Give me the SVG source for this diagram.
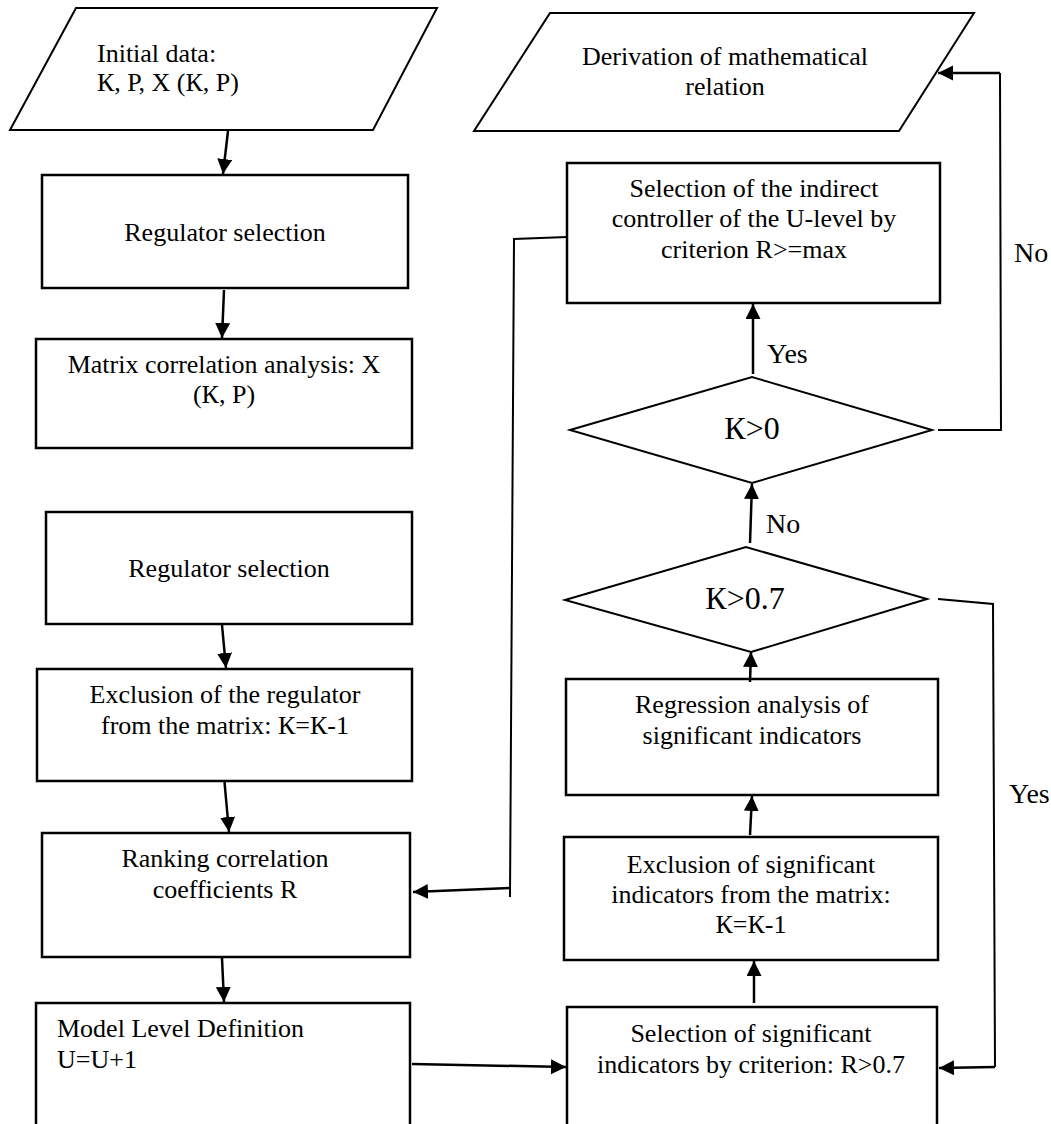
<svg xmlns="http://www.w3.org/2000/svg" width="1051" height="1124" viewBox="0 0 1051 1124">
<defs>
<style>
.box{fill:#fff;stroke:#000;stroke-width:2.5}
.shape{fill:#fff;stroke:#000;stroke-width:2}
.t{font-family:"Liberation Serif","Times New Roman",serif;font-size:26px;fill:#000}
.c{text-anchor:middle}
.lbl{font-family:"Liberation Serif","Times New Roman",serif;font-size:28px;fill:#000}
.dt{font-family:"Liberation Serif","Times New Roman",serif;font-size:32px;fill:#000;text-anchor:middle}
.ar{fill:none;stroke:#000;stroke-width:2.5;marker-end:url(#ah)}
.ln{fill:none;stroke:#000;stroke-width:2}
</style>
<marker id="ah" markerUnits="userSpaceOnUse" markerWidth="16" markerHeight="16" refX="15" refY="7.5" orient="auto" viewBox="0 0 16 16">
<path d="M0,0 L15,7.5 L0,15 z" fill="#000"/>
</marker>
</defs>
<rect width="1051" height="1124" fill="#fff"/>

<g id="initial-data">
<polygon class="shape" points="76,8 437,8 373,130 10,130"/>
<text class="t" x="97" y="62">Initial data:</text>
<text class="t" x="97" y="91">К, Р, X (К, Р)</text>
</g>

<g id="regulator-selection-1">
<rect class="box" x="42" y="175" width="366" height="113"/>
<text class="t c" x="225" y="241">Regulator selection</text>
</g>

<g id="matrix-correlation">
<rect class="box" x="36" y="339" width="376" height="109"/>
<text class="t c" x="224" y="373">Matrix correlation analysis: X</text>
<text class="t c" x="224" y="403">(К, Р)</text>
</g>

<g id="regulator-selection-2">
<rect class="box" x="46" y="512" width="366" height="112"/>
<text class="t c" x="229" y="577">Regulator selection</text>
</g>

<g id="exclusion-regulator">
<rect class="box" x="37" y="669" width="375" height="112"/>
<text class="t c" x="225" y="703">Exclusion of the regulator</text>
<text class="t c" x="225" y="734">from the matrix: К=К-1</text>
</g>

<g id="ranking">
<rect class="box" x="42" y="833" width="368" height="124"/>
<text class="t c" x="225" y="867">Ranking correlation</text>
<text class="t c" x="225" y="898">coefficients R</text>
</g>

<g id="model-level">
<rect class="box" x="36" y="1003" width="374" height="140"/>
<text class="t" x="57" y="1037">Model Level Definition</text>
<text class="t" x="57" y="1068">U=U+1</text>
</g>

<g id="derivation">
<polygon class="shape" points="550,13 974,13 899,131 474,131"/>
<text class="t c" x="725" y="65">Derivation of mathematical</text>
<text class="t c" x="725" y="95">relation</text>
</g>

<g id="indirect-controller">
<rect class="box" x="567" y="163" width="373" height="140"/>
<text class="t c" x="754" y="197">Selection of the indirect</text>
<text class="t c" x="754" y="227">controller of the U-level by</text>
<text class="t c" x="754" y="258">criterion R&gt;=max</text>
</g>

<g id="k-gt-0">
<polygon class="shape" points="570,430 752,377 932,430 752,483"/>
<text class="dt" x="752" y="439">К&gt;0</text>
</g>

<g id="k-gt-07">
<polygon class="shape" points="565,600 746,547 927,599 751,652"/>
<text class="dt" x="745" y="609">К&gt;0.7</text>
</g>

<g id="regression">
<rect class="box" x="566" y="679" width="372" height="116"/>
<text class="t c" x="752" y="713">Regression analysis of</text>
<text class="t c" x="752" y="744">significant indicators</text>
</g>

<g id="exclusion-significant">
<rect class="box" x="564" y="837" width="374" height="123"/>
<text class="t c" x="751" y="873">Exclusion of significant</text>
<text class="t c" x="751" y="903">indicators from the matrix:</text>
<text class="t c" x="751" y="933">К=К-1</text>
</g>

<g id="selection-significant">
<rect class="box" x="567" y="1007" width="370" height="140"/>
<text class="t c" x="751" y="1042">Selection of significant</text>
<text class="t c" x="751" y="1073">indicators by criterion: R&gt;0.7</text>
</g>

<g id="connectors">
<line class="ar" x1="228" y1="131" x2="223" y2="174"/>
<line class="ar" x1="224" y1="290" x2="222" y2="338"/>
<line class="ar" x1="222" y1="625" x2="226" y2="668"/>
<line class="ar" x1="224.5" y1="782" x2="229" y2="832"/>
<line class="ar" x1="222" y1="958" x2="224" y2="1002"/>
<line class="ar" x1="412" y1="1064" x2="566" y2="1067"/>
<line class="ar" x1="754" y1="1003" x2="754" y2="961"/>
<line class="ar" x1="750" y1="835" x2="752" y2="796"/>
<line class="ar" x1="750" y1="682" x2="751" y2="652"/>
<line class="ar" x1="750" y1="543" x2="752" y2="484"/>
<line class="ar" x1="753" y1="374" x2="753" y2="304"/>
<polyline class="ln" points="938,430 1001,430 1000,73"/>
<line class="ar" x1="1000" y1="73" x2="938" y2="73"/>
<polyline class="ln" points="938,599 993,604 995,1067"/>
<line class="ar" x1="995" y1="1067" x2="939" y2="1068"/>
<polyline class="ln" points="567,237 514,239 510,897"/>
<line class="ar" x1="510" y1="888" x2="413" y2="892"/>
<text class="lbl" x="767" y="363">Yes</text>
<text class="lbl" x="766" y="533">No</text>
<text class="lbl" x="1014" y="262">No</text>
<text class="lbl" x="1009" y="803">Yes</text>
</g>
</svg>
